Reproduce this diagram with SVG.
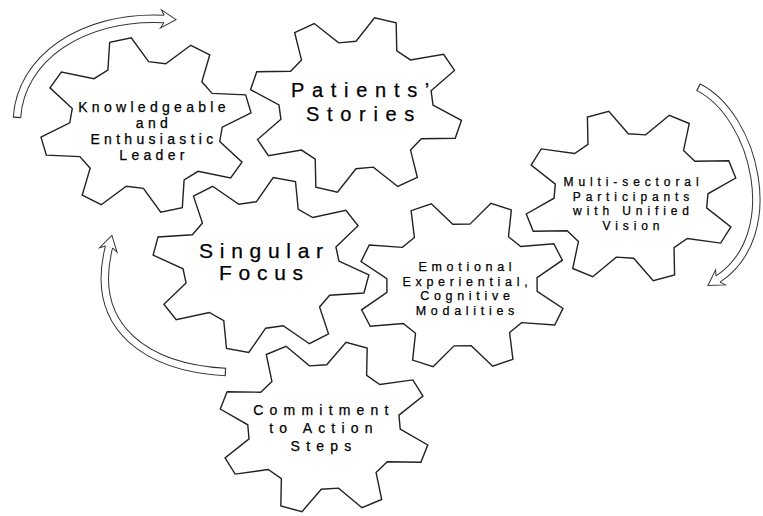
<svg xmlns="http://www.w3.org/2000/svg" width="763" height="516" viewBox="0 0 763 516">
<style>
.gear{fill:#fff;stroke:#222;stroke-width:1.4;stroke-linejoin:miter}
.t{font-family:"Liberation Sans",Arial,sans-serif;fill:#000;stroke:#000;stroke-width:0.25;text-anchor:middle}
.f14{font-size:14px;letter-spacing:4.3px}
.f20{font-size:20px;letter-spacing:7.7px}
.f12{font-size:12px;letter-spacing:4.9px}
.f21{font-size:21px;letter-spacing:6.7px}
.f125{font-size:12.5px;letter-spacing:4.7px}
.f14w{font-size:14px;letter-spacing:6.2px}
.ao{fill:none;stroke:#333;stroke-width:8.4}
.ai{fill:none;stroke:#fff;stroke-width:6.4;stroke-dasharray:0 1.2 3000}
.ah{fill:#fff;stroke:#333;stroke-width:1;stroke-linejoin:miter}
</style>
<defs>
<path id="gear" vector-effect="non-scaling-stroke" d="M69.2,-19.8 L99.5,-10.5 L99.5,10.5 L69.2,19.8 L63,34.9 L77.7,62.9 L62.9,77.7 L34.9,63 L19.8,69.2 L10.5,99.5 L-10.5,99.5 L-19.8,69.2 L-34.9,63 L-62.9,77.7 L-77.7,62.9 L-63,34.9 L-69.2,19.8 L-99.5,10.5 L-99.5,-10.5 L-69.2,-19.8 L-63,-34.9 L-77.7,-62.9 L-62.9,-77.7 L-34.9,-63 L-19.8,-69.2 L-10.5,-99.5 L10.5,-99.5 L19.8,-69.2 L34.9,-63 L62.9,-77.7 L77.7,-62.9 L63,-34.9 Z"/>
<path id="head" d="M0,-3.7 L-3,-9 L12,0 L-3,9 L0,3.7"/>
</defs>

<g id="connectors">
  <g id="arrow-top">
    <path class="ao" d="M17,118 C20,60 80,15 164,19"/>
    <path class="ai" d="M17,118 C20,60 80,15 164,19"/>
    <use href="#head" class="ah" transform="translate(164,19) rotate(3)"/>
  </g>
  <g id="arrow-right">
    <path class="ao" d="M698,87 C755,115 785,235 718,279"/>
    <path class="ai" d="M698,87 C755,115 785,235 718,279"/>
    <use href="#head" class="ah" transform="translate(718,279) rotate(147)"/>
  </g>
  <g id="arrow-left">
    <path class="ao" d="M226,372 C150,368 88,330 109,247"/>
    <path class="ai" d="M226,372 C150,368 88,330 109,247"/>
    <use href="#head" class="ah" transform="translate(109,247) rotate(-76)"/>
  </g>
</g>

<g id="gear-leader">
  <use href="#gear" class="gear" transform="translate(146,125) scale(1.06,0.88) rotate(-14)"/>
  <text class="t f14"><tspan x="154" y="112">Knowledgeable</tspan><tspan x="154" y="128">and</tspan><tspan x="154" y="144">Enthusiastic</tspan><tspan x="154" y="160">Leader</tspan></text>
</g>

<g id="gear-stories">
  <use href="#gear" class="gear" transform="translate(356,105) scale(1.07,0.885) rotate(16)"/>
  <text class="t f20"><tspan x="364" y="97">Patients’</tspan><tspan x="364" y="121">Stories</tspan></text>
</g>

<g id="gear-participants">
  <use href="#gear" class="gear" transform="translate(631,196) scale(1.07,0.865) rotate(-18)"/>
  <text class="t f12"><tspan x="633.5" y="186">Multi-sectoral</tspan><tspan x="633.5" y="200.5">Participants</tspan><tspan x="633.5" y="215">with Unified</tspan><tspan x="633.5" y="229.5">Vision</tspan></text>
</g>

<g id="gear-modalities">
  <use href="#gear" class="gear" transform="translate(462,285) scale(1.05,0.85) rotate(22)"/>
  <text class="t f125"><tspan x="467.4" y="271">Emotional</tspan><tspan x="467.4" y="285.7">Experiential,</tspan><tspan x="467.4" y="300.4">Cognitive</tspan><tspan x="467.4" y="315">Modalities</tspan></text>
</g>

<g id="gear-focus">
  <use href="#gear" class="gear" transform="translate(261,265) scale(1.085,0.88) rotate(12.5)"/>
  <text class="t f21"><tspan x="264.4" y="258">Singular</tspan><tspan x="264.4" y="280">Focus</tspan></text>
</g>

<g id="gear-action">
  <use href="#gear" class="gear" transform="translate(324,427) scale(1.06,0.865) rotate(18)"/>
  <text class="t f14w"><tspan x="324" y="415">Commitment</tspan><tspan x="324" y="433">to Action</tspan><tspan x="324" y="451">Steps</tspan></text>
</g>
</svg>
